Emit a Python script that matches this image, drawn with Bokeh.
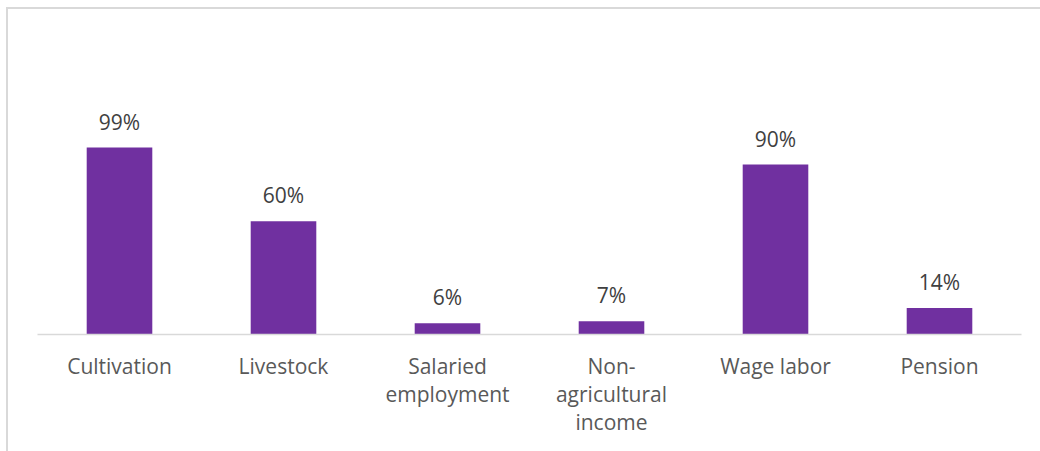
from bokeh.plotting import figure
from bokeh.models import Range1d, ColumnDataSource, InlineStyleSheet
from bokeh.core.properties import value
from bokeh.embed import file_html
from bokeh.resources import INLINE

categories = ["Cultivation", "Livestock", "Salaried\nemployment",
              "Non-\nagricultural\nincome", "Wage labor", "Pension"]
values = [99, 60, 6, 7, 90, 14]
labels = ["99%", "60%", "6%", "7%", "90%", "14%"]

src = ColumnDataSource(dict(cat=categories, val=values, lab=labels))

border_css = InlineStyleSheet(css=""":host {
  background-color: white;
  background-image: linear-gradient(#d9d9d9, #d9d9d9), linear-gradient(#d9d9d9, #d9d9d9);
  background-position: 6px 7px, 6px 7px;
  background-size: 100% 2px, 2px 100%;
  background-repeat: no-repeat;
}""")

p = figure(width=1040, height=451, x_range=categories, y_range=Range1d(0, 155.7),
           output_backend="svg", toolbar_location=None,
           min_border_left=37, min_border_right=19, min_border_top=40, min_border_bottom=117,
           stylesheets=[border_css])
p.border_fill_color = None
p.background_fill_color = None
p.outline_line_color = None
p.xgrid.grid_line_color = None
p.ygrid.grid_line_color = None
p.yaxis.visible = False

p.vbar(x="cat", top="val", width=0.4, source=src, fill_color="#7030A0", line_color=None)
p.text(x="cat", y="val", text="lab", source=src, y_offset=-26,
       text_align="center", text_baseline="alphabetic",
       text_font=value("Open Sans"), text_font_size="21px", text_color="#404040")

ax = p.xaxis[0]
ax.axis_line_color = "#d9d9d9"
ax.axis_line_width = 1.5
ax.major_tick_line_color = None
ax.minor_tick_line_color = None
ax.major_label_text_font = "Open Sans"
ax.major_label_text_font_size = "21px"
ax.major_label_text_color = "#595959"
ax.major_label_standoff = 11
ax.major_label_text_line_height = 1.015

open("out.html", "w").write(file_html(p, INLINE))
